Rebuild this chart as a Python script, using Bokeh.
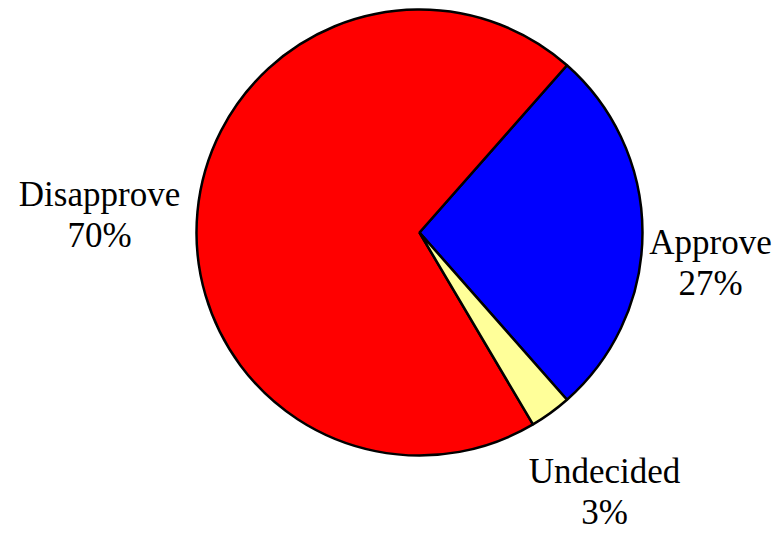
import math
from bokeh.plotting import figure
from bokeh.models import Range1d, ColumnDataSource
from bokeh.core.properties import value
from bokeh.embed import file_html
from bokeh.resources import INLINE

# Data
categories = ["Approve", "Disapprove", "Undecided"]
percents = [27, 70, 3]
colors = ["#0000FF", "#FF0000", "#FFFF99"]

# Layout: data coordinates = picture pixels (x right, y up from the bottom)
W, H = 776, 533
cx, cy, r = 419, H - 232, 223
start_offset = -math.radians(360 * percents[0] / 100 / 2)

starts, ends = [], []
acc = start_offset
for pct in percents:
    starts.append(acc)
    acc += 2 * math.pi * pct / 100
    ends.append(acc)

src = ColumnDataSource(dict(cat=categories, pct=percents, color=colors,
                            start=starts, end=ends,
                            x=[cx] * 3, y=[cy] * 3))

p = figure(width=W, height=H, output_backend="svg", toolbar_location=None,
           x_range=Range1d(0, W), y_range=Range1d(0, H),
           min_border=0, outline_line_color=None)
p.axis.visible = False
p.grid.visible = False
p.background_fill_color = "white"
p.border_fill_color = "white"

p.wedge(x="x", y="y", radius=r, start_angle="start", end_angle="end",
        direction="anticlock", fill_color="color", line_color="black",
        line_width=2.5, source=src)

# label anchor positions (x, anchor y of first line, from top)
label_pos = {"Approve": (710, 242), "Disapprove": (99, 194),
             "Undecided": (604, 471)}
line_gap = 41
lx, ly, lt = [], [], []
for c, pc in zip(categories, percents):
    x0, y0 = label_pos[c]
    lx += [x0, x0]
    ly += [H - y0, H - y0 - line_gap]
    lt += [c, f"{pc}%"]

p.text(x=lx, y=ly, text=lt, text_align="center", text_baseline="alphabetic",
       text_font=value("Liberation Serif"), text_font_size="35px",
       text_color="black")

open("out.html", "w").write(file_html(p, INLINE))
